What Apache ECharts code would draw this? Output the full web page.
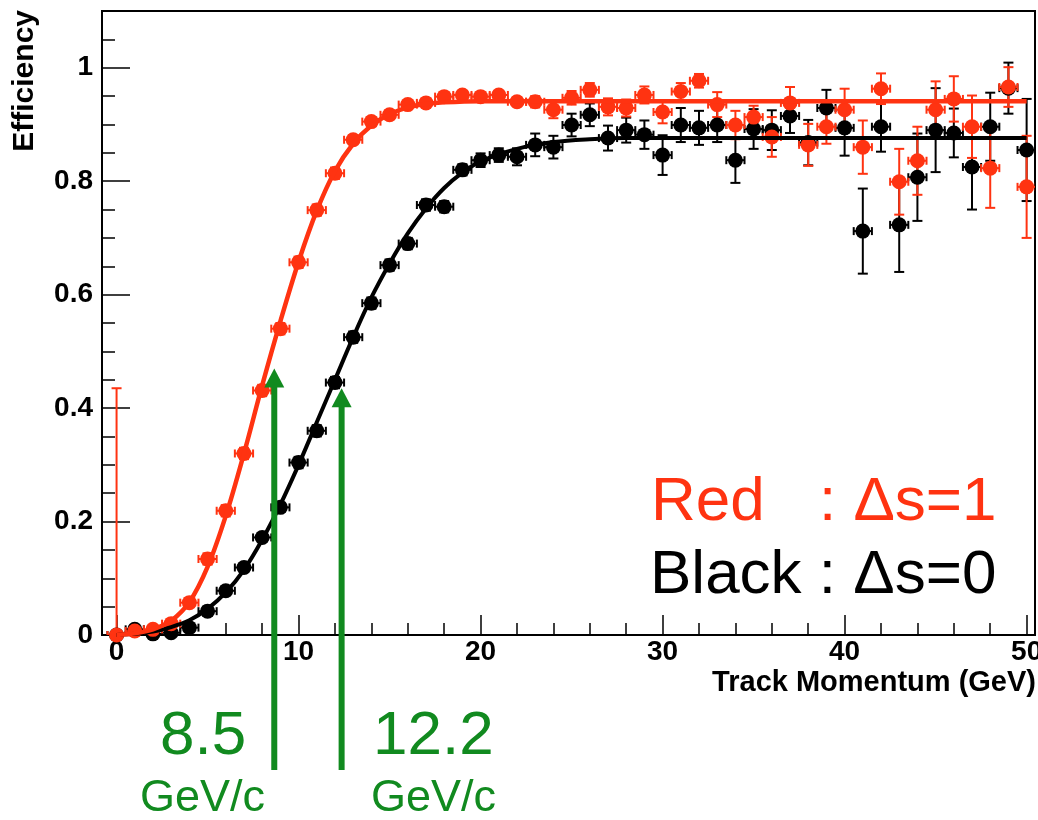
<!DOCTYPE html>
<html><head><meta charset="utf-8">
<script src="https://cdn.jsdelivr.net/npm/echarts@6/dist/echarts.min.js"></script>
<style>html,body{margin:0;padding:0;background:#fff}#c{width:1038px;height:820px}</style>
</head><body><div id="c"></div>
<script>
// ---------- data ----------
const momentum = [0,1,2,3,4,5,6,7,8,9,10,11,12,13,14,15,16,17,18,19,20,21,22,23,24,25,26,27,28,29,30,31,32,33,34,35,36,37,38,39,40,41,42,43,44,45,46,47,48,49,50];
const redEff = [0,0.007,0.01,0.02,0.057,0.134,0.219,0.32,0.431,0.54,0.657,0.749,0.814,0.873,0.905,0.917,0.935,0.938,0.949,0.952,0.949,0.952,0.94,0.94,0.926,0.947,0.961,0.931,0.929,0.952,0.922,0.958,0.977,0.935,0.899,0.913,0.878,0.938,0.864,0.896,0.926,0.86,0.963,0.799,0.836,0.926,0.945,0.896,0.823,0.966,0.79];
const redErrLow = [0,0.005,0.005,0.006,0.008,0.01,0.01,0.01,0.01,0.01,0.01,0.01,0.01,0.008,0.008,0.008,0.007,0.007,0.007,0.007,0.007,0.007,0.008,0.01,0.015,0.012,0.012,0.015,0.015,0.015,0.02,0.015,0.012,0.022,0.025,0.02,0.035,0.028,0.037,0.03,0.037,0.047,0.027,0.058,0.06,0.05,0.04,0.055,0.07,0.035,0.09];
const redErrHigh = [0.435,0.005,0.005,0.006,0.008,0.01,0.01,0.01,0.01,0.01,0.01,0.01,0.01,0.008,0.008,0.008,0.007,0.007,0.007,0.007,0.007,0.007,0.008,0.01,0.015,0.012,0.012,0.015,0.015,0.015,0.02,0.015,0.012,0.022,0.025,0.02,0.035,0.028,0.037,0.03,0.037,0.047,0.027,0.058,0.06,0.05,0.04,0.055,0.07,0.035,0.09];
const blackEff = [0,0.01,0.002,0.004,0.013,0.042,0.078,0.119,0.172,0.225,0.304,0.36,0.445,0.525,0.585,0.652,0.69,0.758,0.755,0.82,0.837,0.846,0.843,0.864,0.86,0.899,0.917,0.876,0.89,0.882,0.846,0.899,0.894,0.899,0.837,0.892,0.89,0.915,0.868,0.929,0.894,0.712,0.896,0.723,0.807,0.89,0.885,0.825,0.896,0.964,0.855];
const blackErr = [0.005,0.005,0.005,0.005,0.006,0.008,0.008,0.008,0.008,0.008,0.01,0.01,0.01,0.01,0.01,0.01,0.01,0.01,0.01,0.01,0.012,0.012,0.015,0.02,0.02,0.02,0.02,0.022,0.022,0.025,0.035,0.03,0.03,0.03,0.04,0.035,0.035,0.03,0.04,0.032,0.049,0.075,0.044,0.083,0.077,0.074,0.043,0.075,0.06,0.045,0.09];
const redFitX = [0,1,2,3,4,5,6,7,8,9,10,11,12,13,14,15,16,17,18,20,24,30,40,50];
const redFitY = [0,0.003,0.01,0.025,0.058,0.12,0.21,0.32,0.44,0.553,0.658,0.748,0.818,0.866,0.898,0.918,0.93,0.936,0.939,0.941,0.941,0.941,0.941,0.941];
const blackFitX = [0,1,2,3,4,5,6,7,8,9,10,11,12,13,14,15,16,17,18,19,20,22,24,26,28,30,40,50];
const blackFitY = [0,0.002,0.006,0.014,0.026,0.046,0.075,0.115,0.168,0.23,0.3,0.375,0.45,0.525,0.595,0.655,0.708,0.752,0.788,0.815,0.835,0.857,0.869,0.874,0.876,0.876,0.876,0.876];
const xMajorTicks = [0,10,20,30,40,50];
const xMinorTicks = [2,4,6,8,12,14,16,18,22,24,26,28,32,34,36,38,42,44,46,48];
const yMajorTicks = [0,0.2,0.4,0.6,0.8,1];
const yMinorTicks = [0.05,0.1,0.15,0.25,0.3,0.35,0.45,0.5,0.55,0.65,0.7,0.75,0.85,0.9,0.95,1.05];
const arrowX = [8.5, 12.2];
const arrowTipY = [0.47, 0.435];
const arrowLabels = ['8.5', '12.2'];
const arrowUnit = 'GeV/c';
const xTitle = 'Track Momentum (GeV)';
const yTitle = 'Efficiency';
const legendRed = ['Red', ': \u0394s=1'];
const legendBlack = 'Black : \u0394s=0';

// ---------- styles ----------
const FONT = '"Liberation Sans", Arial, Helvetica, sans-serif';
const RED = '#ff3311';
const BLACK = '#000000';
const GREEN = '#118a1f';

const chart = echarts.init(document.getElementById('c'), null, {renderer: 'canvas'});

function errSeries(xs, ys, lo, hi, color) {
  return {
    type: 'custom', xAxisIndex: 0, yAxisIndex: 0, clip: true, silent: true,
    data: xs.map((x, i) => [x, ys[i], lo[i], hi[i]]),
    encode: {x: 0, y: 1},
    renderItem(params, api) {
      const x = api.value(0), y = api.value(1), l = api.value(2), h = api.value(3);
      const c = api.coord([x, y]);
      const t = api.coord([x, y + h]);
      const b = api.coord([x, y - l]);
      const lf = api.coord([x - 0.5, y]);
      const rt = api.coord([x + 0.5, y]);
      const st = {stroke: color, lineWidth: 2};
      return {type: 'group', children: [
        {type: 'line', shape: {x1: c[0], y1: t[1], x2: c[0], y2: b[1]}, style: st},
        {type: 'line', shape: {x1: c[0] - 5, y1: t[1], x2: c[0] + 5, y2: t[1]}, style: st},
        {type: 'line', shape: {x1: c[0] - 5, y1: b[1], x2: c[0] + 5, y2: b[1]}, style: st},
        {type: 'line', shape: {x1: lf[0], y1: c[1], x2: rt[0], y2: c[1]}, style: st},
        {type: 'line', shape: {x1: lf[0], y1: c[1] - 4, x2: lf[0], y2: c[1] + 4}, style: st},
        {type: 'line', shape: {x1: rt[0], y1: c[1] - 4, x2: rt[0], y2: c[1] + 4}, style: st}
      ]};
    }
  };
}

const labelStyle = {fontSize: 28, fontWeight: 'bold', color: '#000', fontFamily: FONT};

const option = {
  animation: false,
  backgroundColor: '#fff',
  grid: {left: 102, top: 11, right: 3, bottom: 185, show: true, borderColor: '#000', borderWidth: 2,
         backgroundColor: '#fff', containLabel: false, outerBoundsMode: 'none'},
  xAxis: [
    {type: 'value', min: -0.8, max: 50.46, position: 'bottom',
     axisLine: {show: true, onZero: false, lineStyle: {color: '#000', width: 2}},
     axisTick: {show: true, inside: true, length: 20, customValues: xMajorTicks, lineStyle: {color: '#000', width: 1.5}},
     axisLabel: Object.assign({customValues: xMajorTicks, margin: 3, formatter: v => String(v)}, labelStyle),
     splitLine: {show: false}},
    {type: 'value', min: -0.8, max: 50.46, position: 'bottom',
     axisLine: {show: false, onZero: false},
     axisTick: {show: true, inside: true, length: 12, customValues: xMinorTicks, lineStyle: {color: '#000', width: 1.5}},
     axisLabel: {show: false},
     splitLine: {show: false}}
  ],
  yAxis: [
    {type: 'value', min: 0, max: 1.1, position: 'left',
     axisLine: {show: true, onZero: false, lineStyle: {color: '#000', width: 2}},
     axisTick: {show: true, inside: true, length: 28, customValues: yMajorTicks, lineStyle: {color: '#000', width: 1.5}},
     axisLabel: Object.assign({customValues: yMajorTicks, margin: 9, formatter: v => String(v)}, labelStyle),
     splitLine: {show: false}},
    {type: 'value', min: 0, max: 1.1, position: 'left',
     axisLine: {show: false, onZero: false},
     axisTick: {show: true, inside: true, length: 13, customValues: yMinorTicks, lineStyle: {color: '#000', width: 1.5}},
     axisLabel: {show: false},
     splitLine: {show: false}}
  ],
  series: [
    errSeries(momentum, blackEff, blackErr, blackErr, BLACK),
    {type: 'scatter', xAxisIndex: 0, yAxisIndex: 0, symbol: 'circle', symbolSize: 15,
     itemStyle: {color: BLACK, opacity: 1}, data: momentum.map((x, i) => [x, blackEff[i]])},
    {type: 'line', xAxisIndex: 0, yAxisIndex: 0, smooth: 0.35, showSymbol: false, symbol: 'none',
     lineStyle: {color: BLACK, width: 4}, data: blackFitX.map((x, i) => [x, blackFitY[i]])},
    errSeries(momentum, redEff, redErrLow, redErrHigh, RED),
    {type: 'scatter', xAxisIndex: 0, yAxisIndex: 0, symbol: 'circle', symbolSize: 15,
     itemStyle: {color: RED, opacity: 1}, data: momentum.map((x, i) => [x, redEff[i]])},
    {type: 'line', xAxisIndex: 0, yAxisIndex: 0, smooth: 0.35, showSymbol: false, symbol: 'none',
     lineStyle: {color: RED, width: 4.5}, data: redFitX.map((x, i) => [x, redFitY[i]])}
  ]
};
chart.setOption(option);

// ---------- annotations ----------
const arrowNudge = 3;
const g = [];
arrowX.forEach((v, i) => {
  const px = chart.convertToPixel({xAxisIndex: 0}, v) + arrowNudge;
  const tip = chart.convertToPixel({yAxisIndex: 0}, arrowTipY[i]);
  g.push({type: 'line', z: 100, shape: {x1: px, y1: 770, x2: px, y2: tip + 14}, style: {stroke: GREEN, lineWidth: 6}});
  g.push({type: 'polygon', z: 101, shape: {points: [[px, tip], [px - 10, tip + 19], [px + 10, tip + 19]]}, style: {fill: GREEN}});
});
g.push({type: 'text', z: 100, style: {text: arrowLabels[0], x: 160, y: 737, fill: GREEN, font: '62px ' + FONT, verticalAlign: 'middle', align: 'left'}});
g.push({type: 'text', z: 100, style: {text: arrowLabels[1], x: 373, y: 737, fill: GREEN, font: '62px ' + FONT, verticalAlign: 'middle', align: 'left'}});
g.push({type: 'text', z: 100, style: {text: arrowUnit, x: 140, y: 799, fill: GREEN, font: '45px ' + FONT, verticalAlign: 'middle', align: 'left'}});
g.push({type: 'text', z: 100, style: {text: arrowUnit, x: 371, y: 799, fill: GREEN, font: '45px ' + FONT, verticalAlign: 'middle', align: 'left'}});
g.push({type: 'text', z: 100, style: {text: legendRed[0], x: 651, y: 503, fill: RED, font: '62px ' + FONT, verticalAlign: 'middle', align: 'left'}});
g.push({type: 'text', z: 100, style: {text: legendRed[1], x: 819, y: 503, fill: RED, font: '62px ' + FONT, verticalAlign: 'middle', align: 'left'}});
g.push({type: 'text', z: 100, style: {text: legendBlack, x: 650, y: 576, fill: BLACK, font: '62px ' + FONT, verticalAlign: 'middle', align: 'left'}});
g.push({type: 'text', z: 100, style: {text: xTitle, x: 1036, y: 683, fill: '#000', font: 'bold 29px ' + FONT, verticalAlign: 'middle', align: 'right'}});
g.push({type: 'text', z: 100, x: 25, y: 10, rotation: Math.PI / 2, style: {text: yTitle, x: 0, y: 0, fill: '#000', font: 'bold 30px ' + FONT, verticalAlign: 'middle', align: 'right'}});
chart.setOption({graphic: g});
</script>
</body></html>
